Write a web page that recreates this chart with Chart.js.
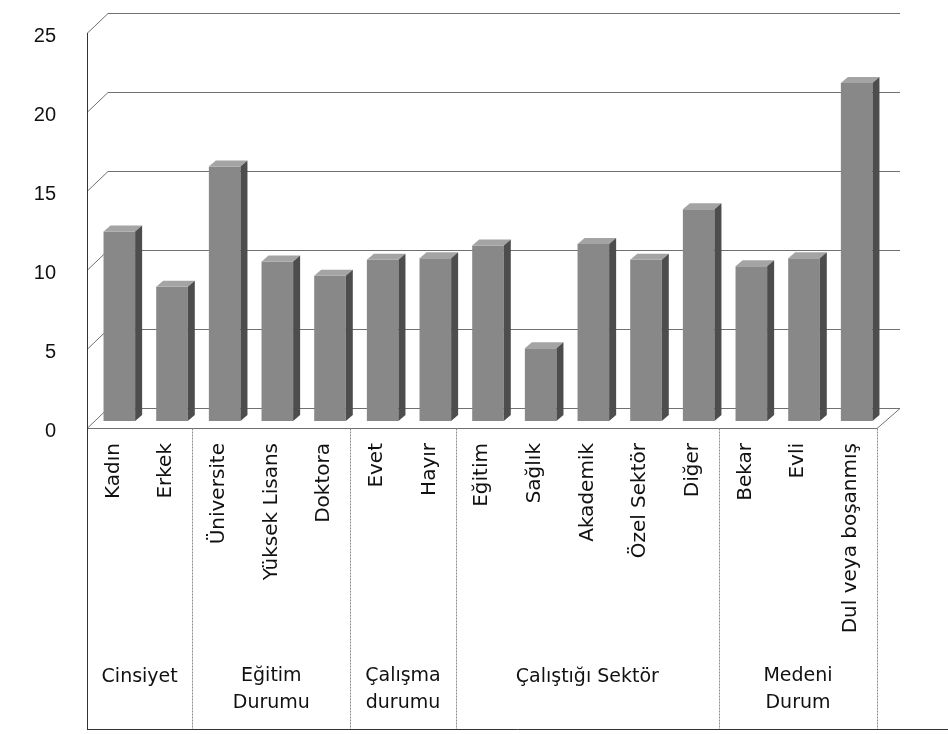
<!DOCTYPE html>
<html>
<head>
<meta charset="utf-8">
<script src="https://cdn.jsdelivr.net/npm/chart.js@4.4.1/dist/chart.umd.min.js"></script>
<style>
  html, body { margin: 0; padding: 0; background: #fff; }
</style>
</head>
<body>
<canvas id="chart" width="948" height="734"></canvas>
<script>
const categories = ["Kadın", "Erkek", "Üniversite", "Yüksek Lisans", "Doktora", "Evet", "Hayır",
  "Eğitim", "Sağlık", "Akademik", "Özel Sektör", "Diğer", "Bekar", "Evli", "Dul veya boşanmış"];
const values = [12.0, 8.5, 16.1, 10.1, 9.2, 10.2, 10.3, 11.1, 4.6, 11.2, 10.2, 13.4, 9.8, 10.3, 21.4];
const groupLabels = [["Cinsiyet"], ["Eğitim", "Durumu"], ["Çalışma", "durumu"], ["Çalıştığı Sektör"], ["Medeni", "Durum"]];
const groupSizes = [2, 3, 2, 5, 3];
const yTicks = [0, 5, 10, 15, 20, 25];

// fake 3d look
const DEPTH_X = 7, DEPTH_Y = -6;
const WALL_X = 21, WALL_Y = -20;
const FRONT = 7;
const BAR_SHIFT = 6;
const TABLE_BOTTOM = 729;

const walls = {
  id: "walls",
  beforeDatasetsDraw(chart) {
    const { ctx, chartArea: a, scales: { x, y } } = chart;
    ctx.save();
    ctx.strokeStyle = "#707070";
    ctx.lineWidth = 1;
    yTicks.forEach((v) => {
      const py = Math.round(y.getPixelForValue(v) + FRONT) + 0.5;
      ctx.beginPath();
      ctx.moveTo(a.left, py);
      ctx.lineTo(a.left + WALL_X, py + WALL_Y);
      ctx.lineTo(a.right + WALL_X + 2, py + WALL_Y);
      ctx.stroke();
    });
    const fy = Math.round(y.getPixelForValue(0) + FRONT) + 0.5;
    ctx.beginPath();
    ctx.moveTo(a.left, fy);
    ctx.lineTo(a.right, fy);
    ctx.lineTo(a.right + WALL_X + 2, fy + WALL_Y);
    ctx.stroke();

    // table under the axis
    ctx.strokeStyle = "#333";
    ctx.beginPath();
    ctx.moveTo(a.left + 0.5, y.getPixelForValue(25) + FRONT);
    ctx.lineTo(a.left + 0.5, TABLE_BOTTOM);
    ctx.moveTo(a.left, TABLE_BOTTOM + 0.5);
    ctx.lineTo(948, TABLE_BOTTOM + 0.5);
    ctx.stroke();

    ctx.strokeStyle = "#8a8a8a";
    ctx.setLineDash([2, 1]);
    let i = 0;
    groupSizes.forEach((n) => {
      i += n;
      const bx = i < categories.length
        ? (x.getPixelForValue(i - 1) + x.getPixelForValue(i)) / 2
        : a.right;
      ctx.beginPath();
      ctx.moveTo(Math.round(bx) + 0.5, fy);
      ctx.lineTo(Math.round(bx) + 0.5, TABLE_BOTTOM);
      ctx.stroke();
    });
    ctx.restore();
  },
  afterDraw(chart) {
    const { ctx, scales: { x } } = chart;
    ctx.save();
    ctx.fillStyle = "#111";
    ctx.font = '19px "DejaVu Sans"';
    ctx.textAlign = "center";
    ctx.textBaseline = "middle";
    let start = 0;
    groupLabels.forEach((lines, g) => {
      const end = start + groupSizes[g] - 1;
      const cx = (x.getPixelForValue(start) + x.getPixelForValue(end)) / 2;
      if (lines.length == 1) {
        ctx.fillText(lines[0], cx, 677);
      } else {
        ctx.fillText(lines[0], cx, 676);
        ctx.fillText(lines[1], cx, 703);
      }
      start = end + 1;
    });
    ctx.restore();
  },
};

const bars3d = {
  id: "bars3d",
  beforeDatasetsDraw(chart) {
    chart.ctx.save();
    chart.ctx.translate(BAR_SHIFT, 0);
  },
  afterDatasetsDraw(chart) {
    const ctx = chart.ctx;
    chart.getDatasetMeta(0).data.forEach((bar) => {
      const l = bar.x - bar.width / 2, r = bar.x + bar.width / 2;
      ctx.fillStyle = "#a4a4a4";
      ctx.beginPath();
      ctx.moveTo(l, bar.y);
      ctx.lineTo(l + DEPTH_X, bar.y + DEPTH_Y);
      ctx.lineTo(r + DEPTH_X, bar.y + DEPTH_Y);
      ctx.lineTo(r, bar.y);
      ctx.closePath();
      ctx.fill();
      ctx.fillStyle = "#4d4d4d";
      ctx.beginPath();
      ctx.moveTo(r, bar.y);
      ctx.lineTo(r + DEPTH_X, bar.y + DEPTH_Y);
      ctx.lineTo(r + DEPTH_X, bar.base + DEPTH_Y);
      ctx.lineTo(r, bar.base);
      ctx.closePath();
      ctx.fill();
    });
    ctx.restore();
  },
};

new Chart(document.getElementById("chart"), {
  type: "bar",
  data: {
    labels: categories,
    datasets: [
      {
        data: values,
        backgroundColor: "#888888",
        borderWidth: 0,
        barPercentage: 0.6,
        categoryPercentage: 1,
      },
    ],
  },
  options: {
    responsive: false,
    animation: false,
    layout: { padding: { top: 26, left: 0, right: 71, bottom: 0 } },
    plugins: { legend: { display: false }, tooltip: { enabled: false } },
    scales: {
      x: {
        grid: { display: false, drawTicks: false },
        border: { display: false },
        ticks: {
          autoSkip: false,
          minRotation: 90,
          maxRotation: 90,
          padding: 22,
          color: "#111",
          font: { family: "DejaVu Sans", size: 20 },
        },
        afterFit: (s) => { s.height = 313; },
      },
      y: {
        min: 0,
        max: 25,
        ticks: {
          stepSize: 5,
          padding: 31,
          labelOffset: 10,
          color: "#111",
          font: { family: "Liberation Sans", size: 20 },
        },
        grid: { display: false, drawTicks: false },
        border: { display: false },
        afterFit: (s) => {
          s.width = 87;
          s.paddingTop = 0;
          s.paddingBottom = 0;
        },
      },
    },
  },
  plugins: [walls, bars3d],
});
</script>
</body>
</html>
